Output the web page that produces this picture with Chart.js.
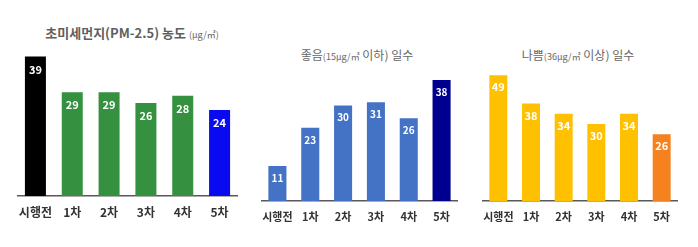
<!DOCTYPE html>
<html>
<head>
<meta charset="utf-8">
<script src="https://cdn.jsdelivr.net/npm/chart.js@4.4.0/dist/chart.umd.min.js"></script>
<style>
  body { margin: 0; background: #fff; width: 698px; height: 247px; position: relative; overflow: hidden;
         font-family: "Noto Sans CJK KR", "Noto Sans", sans-serif; }
  .box { position: absolute; }
  .title { position: absolute; white-space: nowrap; color: #666; transform: translate(-50%, -50%); }
  .title .sm { font-size: 9px; }
</style>
</head>
<body>

<div class="title" style="left:132px; top:32px; font-size:13px; font-weight:bold; color:#5f5f5f;">초미세먼지(PM-2.5) 농도 <span class="sm" style="font-weight:normal">(μg/㎥)</span></div>
<div class="title" style="left:357px; top:54px; font-size:12px;">좋음<span class="sm">(15μg/㎥</span> 이하) 일수</div>
<div class="title" style="left:578px; top:54px; font-size:12px;">나쁨<span class="sm">(36μg/㎥</span> 이상) 일수</div>

<div class="box" style="left:17px; top:50px; width:221px; height:180px;"><canvas id="pm25"></canvas></div>
<div class="box" style="left:261px; top:60px; width:197px; height:175px;"><canvas id="good"></canvas></div>
<div class="box" style="left:482px; top:60px; width:196px; height:175px;"><canvas id="bad"></canvas></div>

<script>
'use strict';

var categories = ['시행전', '1차', '2차', '3차', '4차', '5차'];

// 초미세먼지 농도
var pm25Values = [39, 29, 29, 26, 28, 24];
var pm25Colors = ['#000000', '#35903f', '#35903f', '#35903f', '#35903f', '#0a0af0'];

// 좋음 일수
var goodDays = [11, 23, 30, 31, 26, 38];
var goodColors = ['#4472c4', '#4472c4', '#4472c4', '#4472c4', '#4472c4', '#000090'];

// 나쁨 일수
var badDays = [49, 38, 34, 30, 34, 26];
var badColors = ['#ffc000', '#ffc000', '#ffc000', '#ffc000', '#ffc000', '#f5821f'];

var FONT = '"Noto Sans CJK KR", "Noto Sans", sans-serif';

// white value labels inside the top of each bar
var valueLabels = {
  id: 'valueLabels',
  afterDatasetsDraw: function (chart, args, opts) {
    var ctx = chart.ctx;
    var meta = chart.getDatasetMeta(0);
    var data = chart.data.datasets[0].data;
    ctx.save();
    ctx.fillStyle = '#ffffff';
    ctx.font = 'bold ' + opts.size + 'px ' + FONT;
    ctx.textAlign = 'center';
    ctx.textBaseline = 'middle';
    meta.data.forEach(function (bar, i) {
      ctx.fillText(data[i], bar.x, bar.y + opts.offset);
    });
    ctx.restore();
  }
};

function makeChart(id, values, colors, opt) {
  return new Chart(document.getElementById(id), {
    type: 'bar',
    data: {
      labels: categories,
      datasets: [{
        data: values,
        backgroundColor: colors,
        barPercentage: opt.bar,
        categoryPercentage: 1
      }]
    },
    plugins: [valueLabels],
    options: {
      responsive: true,
      maintainAspectRatio: false,
      animation: false,
      layout: { padding: 0 },
      plugins: {
        legend: { display: false },
        tooltip: { enabled: false },
        valueLabels: { size: opt.valSize, offset: opt.valOffset }
      },
      scales: {
        x: {
          grid: { display: false, drawTicks: false },
          border: { display: true, color: '#595959', width: 1.5 },
          ticks: {
            color: '#333',
            padding: opt.tickPad,
            minRotation: 0,
            maxRotation: 0,
            autoSkip: false,
            font: { family: FONT, size: opt.tickSize, weight: 'bold' }
          },
          afterFit: function (scale) {
            scale.height = 34;
            scale.paddingLeft = 0;
            scale.paddingRight = 0;
          }
        },
        y: {
          display: false,
          min: 0,
          max: opt.max
        }
      }
    }
  });
}

makeChart('pm25', pm25Values, pm25Colors, { bar: 0.57, max: 40.8, valSize: 11, valOffset: 13, tickSize: 12, tickPad: 9 });
makeChart('good', goodDays, goodColors, { bar: 0.55, max: 44.3, valSize: 10, valOffset: 12, tickSize: 11, tickPad: 9 });
makeChart('bad', badDays, badColors, { bar: 0.55, max: 54.9, valSize: 11, valOffset: 12, tickSize: 11, tickPad: 9 });
</script>
</body>
</html>
